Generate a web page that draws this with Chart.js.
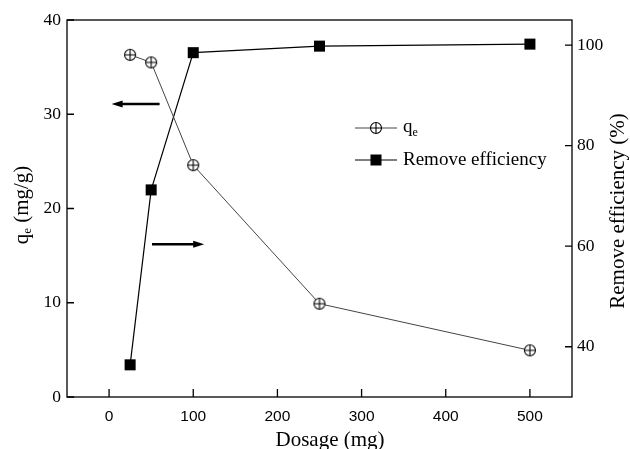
<!DOCTYPE html>
<html>
<head>
<meta charset="utf-8">
<script src="https://cdn.jsdelivr.net/npm/chart.js@4.4.1/dist/chart.umd.min.js"></script>
<style>
  html, body { margin: 0; padding: 0; background: #fff; }
  #wrap { width: 630px; height: 449px; }
</style>
</head>
<body>
<div id="wrap"><canvas id="chart" width="630" height="449"></canvas></div>
<script>
// data
var dosage = [25, 50, 100, 250, 500];
var qe = [36.3, 35.5, 24.6, 9.9, 4.95];
var removal = [36.4, 71.2, 98.5, 99.8, 100.2];

var xTicks = [0, 100, 200, 300, 400, 500];
var yLeftTicks = [0, 10, 20, 30, 40];
var yRightTicks = [40, 60, 80, 100];

var serif = '"Liberation Serif", "Times New Roman", serif';
var sans = '"Liberation Sans", Arial, sans-serif';

// crossed circle marker
function crossCircle() {
    var c = document.createElement('canvas');
    c.width = 14; c.height = 14;
    var g = c.getContext('2d');
    g.fillStyle = '#fff';
    g.strokeStyle = '#000';
    g.lineWidth = 1.1;
    g.beginPath();
    g.arc(7, 7, 5.5, 0, Math.PI * 2);
    g.fill();
    g.stroke();
    g.beginPath();
    g.moveTo(1.5, 7); g.lineTo(12.5, 7);
    g.moveTo(7, 1.5); g.lineTo(7, 12.5);
    g.stroke();
    return c;
}
var qeMarker = crossCircle();

function arrow(ctx, x1, y, x2) {
    var dir = x2 > x1 ? 1 : -1;
    ctx.save();
    ctx.strokeStyle = '#000';
    ctx.fillStyle = '#000';
    ctx.lineWidth = 2.5;
    ctx.beginPath();
    ctx.moveTo(x1, y);
    ctx.lineTo(x2 - dir * 8, y);
    ctx.stroke();
    ctx.beginPath();
    ctx.moveTo(x2, y);
    ctx.lineTo(x2 - dir * 11, y - 3.5);
    ctx.lineTo(x2 - dir * 11, y + 3.5);
    ctx.closePath();
    ctx.fill();
    ctx.restore();
}

var decor = {
    id: 'decor',
    afterDraw: function (chart) {
        var ctx = chart.ctx;
        var a = chart.chartArea;
        var xs = chart.scales.x, yl = chart.scales.y, yr = chart.scales.y1;
        ctx.save();
        // frame
        ctx.strokeStyle = '#000';
        ctx.lineWidth = 1.3;
        ctx.strokeRect(a.left, a.top, a.right - a.left, a.bottom - a.top);
        // inward ticks
        ctx.beginPath();
        xTicks.forEach(function (v) {
            var px = xs.getPixelForValue(v);
            ctx.moveTo(px, a.bottom); ctx.lineTo(px, a.bottom - 8);
        });
        yLeftTicks.forEach(function (v) {
            var py = yl.getPixelForValue(v);
            ctx.moveTo(a.left, py); ctx.lineTo(a.left + 7, py);
        });
        yRightTicks.forEach(function (v) {
            var py = yr.getPixelForValue(v);
            ctx.moveTo(a.right, py); ctx.lineTo(a.right - 7, py);
        });
        ctx.stroke();

        // arrows pointing to their axes
        arrow(ctx, xs.getPixelForValue(60), yl.getPixelForValue(31.1), xs.getPixelForValue(3));
        arrow(ctx, xs.getPixelForValue(51), yr.getPixelForValue(60.4), xs.getPixelForValue(113));

        // legend
        ctx.fillStyle = '#000';
        ctx.textBaseline = 'middle';
        ctx.textAlign = 'left';
        var lx = 355, ly1 = 128, ly2 = 160;
        ctx.lineWidth = 1;
        ctx.strokeStyle = '#444';
        ctx.beginPath(); ctx.moveTo(lx, ly1); ctx.lineTo(lx + 42, ly1); ctx.stroke();
        ctx.drawImage(qeMarker, lx + 21 - 7, ly1 - 7);
        ctx.strokeStyle = '#000';
        ctx.beginPath(); ctx.moveTo(lx, ly2); ctx.lineTo(lx + 42, ly2); ctx.stroke();
        ctx.fillRect(lx + 21 - 5.5, ly2 - 5.5, 11, 11);
        ctx.font = '19px ' + serif;
        ctx.fillText('q', 403, ly1 - 1);
        var qw = ctx.measureText('q').width;
        ctx.font = '12px ' + serif;
        ctx.fillText('e', 403 + qw, ly1 + 5);
        ctx.font = '19px ' + serif;
        ctx.fillText('Remove efficiency', 403, ly2);

        // axis titles
        ctx.font = '21px ' + serif;
        ctx.textAlign = 'center';
        ctx.fillText('Dosage (mg)', 330, 440);

        ctx.save();
        ctx.translate(618, 211);
        ctx.rotate(-Math.PI / 2);
        ctx.fillText('Remove efficiency (%)', 0, 0);
        ctx.restore();

        ctx.save();
        ctx.translate(22, 205);
        ctx.rotate(-Math.PI / 2);
        ctx.textAlign = 'left';
        ctx.font = '21px ' + serif;
        var w1 = ctx.measureText('q').width;
        var w3 = ctx.measureText(' (mg/g)').width;
        ctx.font = '13px ' + serif;
        var w2 = ctx.measureText('e').width;
        var x0 = -(w1 + w2 + w3) / 2;
        ctx.font = '21px ' + serif;
        ctx.fillText('q', x0, 0);
        ctx.font = '13px ' + serif;
        ctx.fillText('e', x0 + w1, 6);
        ctx.font = '21px ' + serif;
        ctx.fillText(' (mg/g)', x0 + w1 + w2, 0);
        ctx.restore();

        ctx.restore();
    }
};

function pts(xs, ys) {
    return xs.map(function (x, i) { return { x: x, y: ys[i] }; });
}

new Chart(document.getElementById('chart').getContext('2d'), {
    type: 'line',
    data: {
        datasets: [{
            label: 'q_e',
            data: pts(dosage, qe),
            yAxisID: 'y',
            borderColor: '#444',
            borderWidth: 1,
            pointStyle: qeMarker,
            tension: 0
        }, {
            label: 'Remove efficiency',
            data: pts(dosage, removal),
            yAxisID: 'y1',
            borderColor: '#000',
            borderWidth: 1.2,
            pointStyle: 'rect',
            pointRadius: 7.8,
            pointBackgroundColor: '#000',
            pointBorderColor: '#000',
            pointBorderWidth: 0,
            tension: 0
        }]
    },
    options: {
        responsive: false,
        animation: false,
        layout: { padding: { top: 20, left: 0, right: 0, bottom: 0 } },
        plugins: { legend: { display: false }, tooltip: { enabled: false } },
        scales: {
            x: {
                type: 'linear',
                min: -50, max: 550,
                afterBuildTicks: function (s) { s.ticks = xTicks.map(function (v) { return { value: v }; }); },
                afterFit: function (s) { s.height = 52; },
                grid: { display: false, drawTicks: false },
                border: { display: false },
                ticks: { color: '#000', padding: 10, font: { family: sans, size: 15.5 } }
            },
            y: {
                position: 'left',
                min: 0, max: 40,
                afterBuildTicks: function (s) { s.ticks = yLeftTicks.map(function (v) { return { value: v }; }); },
                afterFit: function (s) { s.width = 67; },
                grid: { display: false, drawTicks: false },
                border: { display: false },
                ticks: { color: '#000', padding: 6, font: { family: serif, size: 17.5 } }
            },
            y1: {
                position: 'right',
                min: 30, max: 105,
                afterBuildTicks: function (s) { s.ticks = yRightTicks.map(function (v) { return { value: v }; }); },
                afterFit: function (s) { s.width = 58; },
                grid: { display: false, drawTicks: false },
                border: { display: false },
                ticks: { color: '#000', padding: 5, font: { family: serif, size: 17.5 } }
            }
        }
    },
    plugins: [decor]
});
</script>
</body>
</html>
